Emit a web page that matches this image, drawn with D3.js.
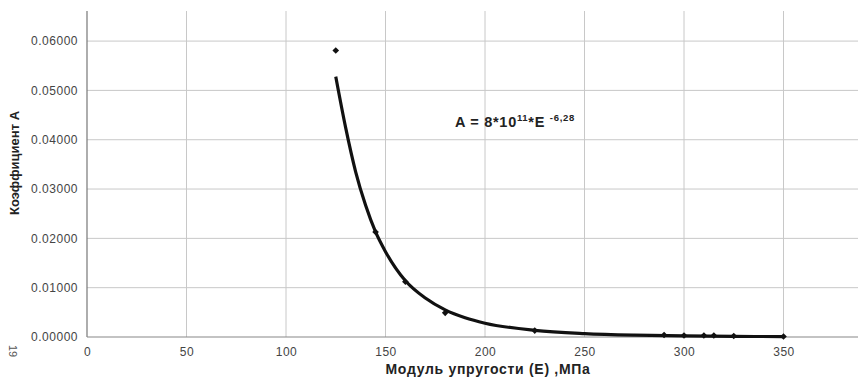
<!DOCTYPE html>
<html><head><meta charset="utf-8">
<script src="https://cdn.jsdelivr.net/npm/d3@7"></script>
<style>body{margin:0;background:#fff}svg{display:block}</style>
</head><body>
<svg id="c" width="858" height="378"></svg>
<script>
// Measured points (E, MPa -> A)
const pointsE = [125, 145, 160, 180, 225, 290, 300, 310, 315, 325, 350];
const pointsA = [0.0581, 0.0213, 0.0112, 0.0049, 0.0013, 0.0004, 0.0003, 0.0003, 0.0003, 0.0002, 0.0001];
// Trend line
const trendE = [125, 130, 135, 140, 145, 150, 160, 170, 180, 190, 200, 225, 250, 275, 300, 325, 350];
const trendA = [0.0528, 0.0424, 0.0335, 0.0267, 0.0213, 0.0173, 0.0114, 0.0079, 0.0055, 0.0039, 0.0028, 0.00135, 0.0007, 0.00038, 0.00022, 0.00013, 0.00008];
const xTicks = [0, 50, 100, 150, 200, 250, 300, 350];
const yTicks = [0, 0.01, 0.02, 0.03, 0.04, 0.05, 0.06];

const svg = d3.select("#c");
const x = d3.scaleLinear().domain([0, 400]).range([87, 883]);
const y = d3.scaleLinear().domain([0, 0.0661]).range([337, 11]);
const font = "Liberation Sans, Arial, sans-serif";

// grid
const g = svg.append("g");
g.selectAll("line.h").data(yTicks.slice(1)).join("line")
  .attr("x1", x(0)).attr("x2", 858).attr("y1", d => y(d)).attr("y2", d => y(d))
  .attr("stroke", "#c8c8c8").attr("stroke-width", 1);
g.selectAll("line.v").data(xTicks.slice(1)).join("line")
  .attr("y1", y(0.0661)).attr("y2", y(0)).attr("x1", d => x(d)).attr("x2", d => x(d))
  .attr("stroke", "#c8c8c8").attr("stroke-width", 1);

// axes
const yAxis = svg.append("g").attr("transform", `translate(${x(0)},0)`)
  .call(d3.axisLeft(y).tickValues(yTicks).tickSize(0).tickPadding(9).tickFormat(d3.format(".5f")));
const xAxis = svg.append("g").attr("transform", `translate(0,${y(0)})`)
  .call(d3.axisBottom(x).tickValues(xTicks).tickSize(0).tickPadding(10).tickFormat(d3.format("d")));
[yAxis, xAxis].forEach(a => {
  a.select(".domain").remove();
  a.selectAll("text").attr("font-family", font).attr("font-size", 12).attr("letter-spacing", 0.5).attr("fill", "#444");
});
svg.append("line").attr("x1", x(0)).attr("x2", x(0)).attr("y1", 11).attr("y2", y(0)).attr("stroke", "#777").attr("stroke-width", 1.2);
svg.append("line").attr("x1", x(0)).attr("x2", 858).attr("y1", y(0)).attr("y2", y(0)).attr("stroke", "#888").attr("stroke-width", 1.2);

// trend
const trend = trendE.map((e, i) => [e, trendA[i]]);
svg.append("path").datum(trend)
  .attr("d", d3.line().x(d => x(d[0])).y(d => y(d[1])).curve(d3.curveMonotoneX))
  .attr("fill", "none").attr("stroke", "#111").attr("stroke-width", 3.2);

// points
const pts = pointsE.map((e, i) => [e, pointsA[i]]);
svg.selectAll("path.pt").data(pts).join("path")
  .attr("transform", d => `translate(${x(d[0])},${y(d[1])}) rotate(45)`)
  .attr("d", d3.symbol(d3.symbolSquare, 22))
  .attr("fill", "#111");

// titles
svg.append("text").attr("x", 488).attr("y", 374).attr("text-anchor", "middle")
  .attr("font-family", font).attr("font-weight", "bold").attr("font-size", 14).attr("letter-spacing", 0.7).attr("fill", "#222")
  .text("Модуль упругости (Е) ,МПа");
svg.append("text").attr("transform", "translate(19,163) rotate(-90)").attr("text-anchor", "middle")
  .attr("font-family", font).attr("font-weight", "bold").attr("font-size", 13).attr("fill", "#222")
  .text("Коэффициент А");
svg.append("text").attr("transform", "translate(9,351) rotate(90)").attr("text-anchor", "middle")
  .attr("font-family", font).attr("font-size", 11).attr("fill", "#555").text("19");

// equation
const eq = svg.append("text").attr("x", 455).attr("y", 127)
  .attr("font-family", font).attr("font-weight", "bold").attr("font-size", 14.5).attr("letter-spacing", 0.7).attr("fill", "#222");
eq.append("tspan").text("A = 8*10");
eq.append("tspan").attr("dy", -6).attr("font-size", 9.5).text("11");
eq.append("tspan").attr("dy", 6).text("*E ");
eq.append("tspan").attr("dy", -6).attr("font-size", 9.5).text("-6,28");
</script>
</body></html>
